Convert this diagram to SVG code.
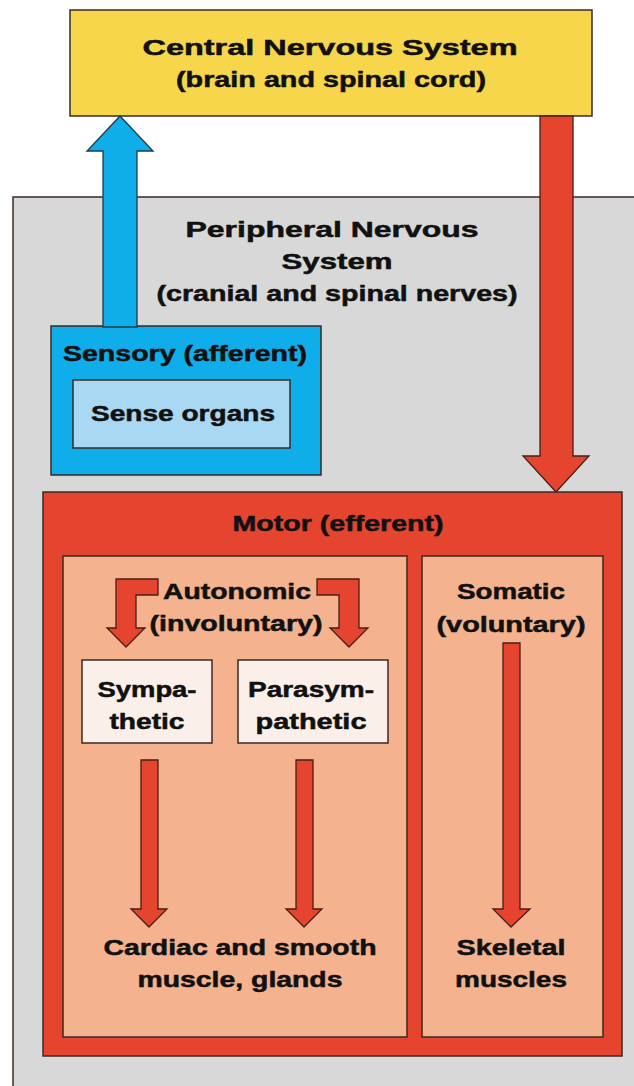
<svg xmlns="http://www.w3.org/2000/svg" width="634" height="1086" viewBox="0 0 634 1086">
<style>
text{font-family:"Liberation Sans",Arial,sans-serif;font-weight:bold;font-size:22px;fill:#111;stroke:#111;stroke-width:0.5;text-anchor:middle}
.box{stroke:#3a2a22;stroke-width:1.5}
.arr{fill:#e5452f;stroke:#4a1d14;stroke-width:1.3;stroke-linejoin:miter}
</style>
<rect width="634" height="1086" fill="#ffffff"/>
<g id="pns">
<rect class="box" x="13" y="197" width="640" height="900" fill="#d8d8d8"/>
<text x="332" y="237" textLength="293" lengthAdjust="spacingAndGlyphs">Peripheral Nervous</text>
<text x="337" y="269" textLength="111" lengthAdjust="spacingAndGlyphs">System</text>
<text x="337" y="301" textLength="361" lengthAdjust="spacingAndGlyphs">(cranial and spinal nerves)</text>
</g>
<g id="cns">
<rect class="box" x="70" y="10" width="522" height="106" fill="#f8d64b"/>
<text x="330" y="55" font-size="24" textLength="375" lengthAdjust="spacingAndGlyphs">Central Nervous System</text>
<text x="331" y="87" textLength="310" lengthAdjust="spacingAndGlyphs">(brain and spinal cord)</text>
</g>
<g id="sensory">
<rect class="box" x="51" y="326" width="270" height="149" fill="#0fadea"/>
<text x="185" y="361" textLength="244" lengthAdjust="spacingAndGlyphs">Sensory (afferent)</text>
</g>
<g id="sense-organs">
<rect class="box" x="73" y="380" width="217" height="68" fill="#a8d8f2"/>
<text x="183" y="421" textLength="184" lengthAdjust="spacingAndGlyphs">Sense organs</text>
</g>
<g id="motor">
<rect class="box" x="43" y="492" width="579" height="564" fill="#e5452f"/>
<text x="338" y="531" textLength="211" lengthAdjust="spacingAndGlyphs">Motor (efferent)</text>
</g>
<g id="autonomic">
<rect class="box" x="63" y="556" width="344" height="481" fill="#f4b28e"/>
<text x="237" y="599" textLength="148" lengthAdjust="spacingAndGlyphs">Autonomic</text>
<text x="236" y="631" textLength="173" lengthAdjust="spacingAndGlyphs">(involuntary)</text>
</g>
<g id="somatic">
<rect class="box" x="422" y="556" width="181" height="481" fill="#f4b28e"/>
<text x="511" y="599" textLength="108" lengthAdjust="spacingAndGlyphs">Somatic</text>
<text x="511" y="632" textLength="149" lengthAdjust="spacingAndGlyphs">(voluntary)</text>
</g>
<g id="sympathetic">
<rect class="box" x="82" y="660" width="130" height="83" fill="#fbefea"/>
<text x="147" y="697" textLength="99" lengthAdjust="spacingAndGlyphs">Sympa-</text>
<text x="147" y="729" textLength="75" lengthAdjust="spacingAndGlyphs">thetic</text>
</g>
<g id="parasympathetic">
<rect class="box" x="238" y="660" width="150" height="83" fill="#fbefea"/>
<text x="311" y="697" textLength="126" lengthAdjust="spacingAndGlyphs">Parasym-</text>
<text x="311" y="729" textLength="111" lengthAdjust="spacingAndGlyphs">pathetic</text>
</g>
<g id="cardiac">
<text x="240" y="955" textLength="273" lengthAdjust="spacingAndGlyphs">Cardiac and smooth</text>
<text x="240" y="987" textLength="205" lengthAdjust="spacingAndGlyphs">muscle, glands</text>
</g>
<g id="skeletal">
<text x="511" y="955" textLength="109" lengthAdjust="spacingAndGlyphs">Skeletal</text>
<text x="511" y="987" textLength="112" lengthAdjust="spacingAndGlyphs">muscles</text>
</g>
<g id="connectors">
<polygon points="103,327 103,151 87,151 120,116 153,151 137,151 137,327" fill="#0fadea" stroke="#1d3a4a" stroke-width="1.3"/>
<polygon class="arr" points="540,116 573,116 573,456 589,456 556,492 523,456 540,456"/>
<polygon class="arr" points="158,579 116,579 116,628 107,628 126,647 145,628 136,628 136,595 158,595"/>
<polygon class="arr" points="317,579 359,579 359,628 368,628 349,647 330,628 339,628 339,595 317,595"/>
<polygon class="arr" points="141,760 158,760 158,909 167,909 149,927 131,909 141,909"/>
<polygon class="arr" points="296,760 313,760 313,909 322,909 304,927 286,909 296,909"/>
<polygon class="arr" points="503,643 520,643 520,909 530,909 511,927 493,909 503,909"/>
</g>
</svg>
